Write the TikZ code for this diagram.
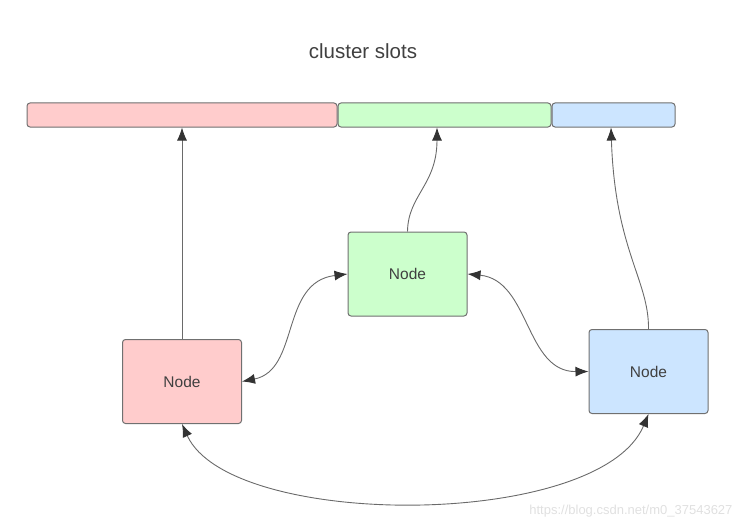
\documentclass[tikz,border=0pt]{standalone}
\usepackage{fontspec}
\setmainfont{Liberation Sans}
\usetikzlibrary{arrows.meta}
\definecolor{rfill}{HTML}{FFCCCC}
\definecolor{gfill}{HTML}{CCFFCC}
\definecolor{bfill}{HTML}{CCE5FF}
\definecolor{edge}{HTML}{707070}
\definecolor{wire}{HTML}{6A6A6A}
\definecolor{tipc}{HTML}{333333}
\tikzset{tip/.tip={Latex[length=13pt,width=10pt,color=tipc]}}
\begin{document}
\begin{tikzpicture}[x=1pt,y=-1pt,
  slotbar/.style={draw=edge,line width=1pt,rounded corners=3pt},
  nodebox/.style={draw=edge,line width=1pt,rounded corners=3pt,minimum width=119pt,minimum height=84pt,font=\fontsize{15.5}{18}\selectfont,text=black!75,inner sep=0pt},
  link/.style={draw=wire,line width=0.9pt,-tip},
  dlink/.style={draw=wire,line width=0.9pt,tip-tip}]
\useasboundingbox (0,0) rectangle (745,527);
\node[font=\fontsize{20.5}{24}\selectfont,text=black!75] (title) at (363,51) {cluster slots};
\draw[slotbar,fill=rfill] (27,103) rectangle (337,127);
\draw[slotbar,fill=gfill] (338,103) rectangle (551,127);
\draw[slotbar,fill=bfill] (552,103) rectangle (675,127);
\coordinate (sr) at (182,127.5);
\coordinate (sg) at (437,127.5);
\coordinate (sb) at (611,127.5);
\node[nodebox,fill=rfill] (nr) at (182,381.5) {Node};
\node[nodebox,fill=gfill] (ng) at (407.5,274) {Node};
\node[nodebox,fill=bfill] (nb) at (648.5,371.5) {Node};
\draw[link] (nr.north) -- (sr);
\draw[link] (ng.north) .. controls (408,195) and (437,185) .. (sg);
\draw[link] (nb.north) .. controls (649,280) and (615,250) .. (sb);
\draw[dlink] (nr.east) .. controls (300,370) and (280,282) .. (ng.west);
\draw[dlink] (ng.east) .. controls (530,280) and (525,372) .. (nb.west);
\draw[dlink] (nr.south) .. controls (230,530) and (600,530) .. (nb.south);
\node[font=\fontsize{13}{15}\selectfont,text=black!12,anchor=east] (wm) at (736,511) {https://blog.csdn.net/m0\_37543627};
\end{tikzpicture}
\end{document}
